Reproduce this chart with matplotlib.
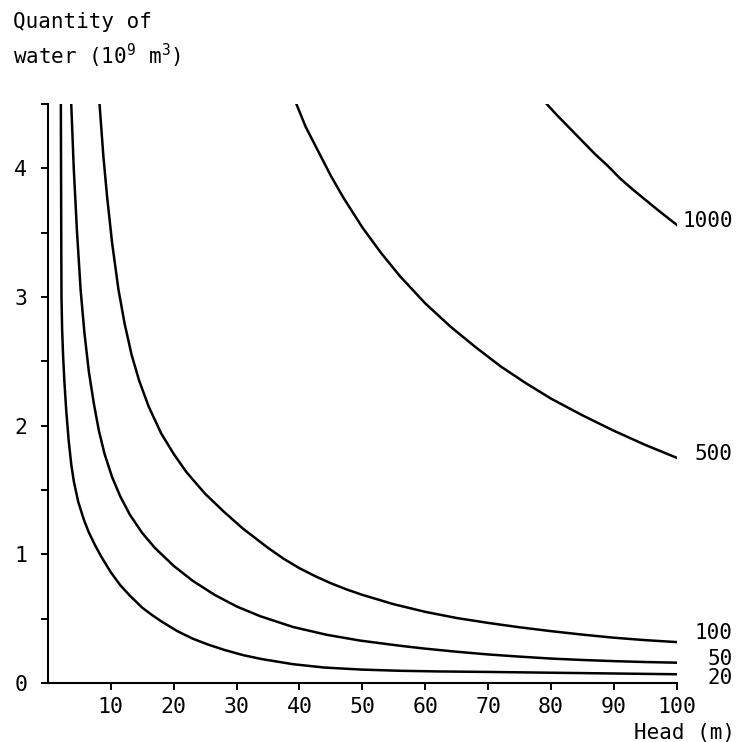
import matplotlib
matplotlib.use('Agg')
import matplotlib.pyplot as plt
import numpy as np

plt.rcParams['font.family'] = ['DejaVu Sans Mono']
plt.rcParams['mathtext.fontset'] = 'custom'
plt.rcParams['mathtext.rm'] = 'DejaVu Sans Mono'
plt.rcParams['mathtext.it'] = 'DejaVu Sans Mono'

# head (m) and quantity of water (10^9 m^3)
head_20 = [2.05, 2.08, 2.11, 2.15, 2.25, 2.4, 2.6, 2.9, 3.3, 3.7, 4.1, 4.8, 5.7, 6.5, 7.5, 8.5,
           10.0, 11.5, 13.0, 15.0, 16.5, 18.0, 20.5, 23.0, 25.5, 28.0, 31.0, 34.0, 39.0, 44.0,
           50.0, 56.0, 62.0, 70.0, 80.0, 90.0, 100.0]
water_20 = [4.50, 4.00, 3.50, 3.00, 2.75, 2.55, 2.35, 2.12, 1.88, 1.70, 1.57, 1.41, 1.27, 1.17, 1.07, 0.98,
            0.86, 0.76, 0.68, 0.585, 0.53, 0.48, 0.405, 0.345, 0.298, 0.258, 0.217, 0.186, 0.146, 0.12,
            0.104, 0.095, 0.09, 0.086, 0.08, 0.074, 0.068]

head_50 = [3.7, 4.1, 4.6, 5.2, 5.8, 6.5, 7.3, 8.1, 9.0, 10.2, 11.5, 13.0, 15.0, 17.0, 20.0, 23.0,
           26.5, 30.0, 33.7, 39.0, 44.3, 49.6, 55.9, 60.0, 65.0, 70.0, 75.0, 80.0, 85.0, 90.0, 95.0, 100.0]
water_50 = [4.50, 4.00, 3.52, 3.05, 2.72, 2.42, 2.17, 1.96, 1.78, 1.60, 1.45, 1.31, 1.165, 1.05, 0.91, 0.795,
            0.685, 0.595, 0.52, 0.435, 0.375, 0.33, 0.29, 0.267, 0.243, 0.222, 0.205, 0.19, 0.179, 0.17, 0.163, 0.158]

head_100 = [8.2, 8.8, 9.4, 10.2, 11.2, 12.2, 13.3, 14.5, 16.0, 18.0, 20.0, 22.0, 25.0, 28.0, 31.0,
            35.0, 37.5, 40.0, 42.5, 45.0, 47.5, 50.0, 55.0, 60.0, 65.0, 70.0, 75.0, 80.0, 85.0,
            90.0, 95.0, 100.0]
water_100 = [4.50, 4.10, 3.78, 3.42, 3.06, 2.79, 2.55, 2.35, 2.15, 1.94, 1.78, 1.64, 1.47, 1.33, 1.20,
             1.05, 0.965, 0.892, 0.83, 0.775, 0.727, 0.685, 0.612, 0.553, 0.505, 0.467, 0.433, 0.403, 0.376,
             0.352, 0.333, 0.318]

head_500 = [39.5, 41.0, 43.0, 45.0, 47.0, 50.0, 53.0, 56.0, 60.0, 64.0, 68.0, 72.0, 76.0, 80.0,
            85.0, 90.0, 95.0, 100.0]
water_500 = [4.50, 4.32, 4.13, 3.94, 3.77, 3.54, 3.34, 3.16, 2.95, 2.77, 2.61, 2.46, 2.33, 2.21,
             2.08, 1.96, 1.85, 1.75]

head_1000 = [79.3, 81.0, 83.0, 85.0, 87.0, 89.0, 91.0, 93.0, 95.0, 97.0, 100.0]
water_1000 = [4.50, 4.41, 4.31, 4.21, 4.11, 4.02, 3.92, 3.835, 3.755, 3.675, 3.56]

curve_labels = ['20', '50', '100', '500', '1000']
x_ticks = [10, 20, 30, 40, 50, 60, 70, 80, 90, 100]
y_ticks = [0, 1, 2, 3, 4]

curves = [(head_20, water_20), (head_50, water_50), (head_100, water_100),
          (head_500, water_500), (head_1000, water_1000)]
label_y = [0.04, 0.19, 0.385, 1.78, 3.59]

fig = plt.figure(figsize=(7.38, 7.42), dpi=100)
ax = fig.add_axes([0.065, 0.0795, 0.852, 0.7805])

for (h, q) in curves:
    ax.plot(h, q, color='black', lw=1.8, solid_joinstyle='round')

for lab, ly in zip(curve_labels, label_y):
    ax.text(108.9, ly, lab, ha='right', va='center', fontsize=15, clip_on=False)

ax.set_xlim(0, 100)
ax.set_ylim(0, 4.5)
ax.spines['top'].set_visible(False)
ax.spines['right'].set_visible(False)
ax.spines['left'].set_linewidth(1.5)
ax.spines['bottom'].set_linewidth(1.5)

ax.set_xticks(x_ticks)
ax.set_xticklabels([str(t) for t in x_ticks])
ax.set_yticks(y_ticks)
ax.set_yticklabels([str(t) for t in y_ticks])
ax.set_yticks(np.arange(0.5, 4.6, 1.0), minor=True)
ax.tick_params(axis='both', which='both', direction='out', length=5, width=1.4,
               labelsize=15.5, color='black')
ax.tick_params(axis='x', pad=5)
ax.tick_params(axis='y', pad=10)

fig.text(0.018, 0.970, 'Quantity of', fontsize=15, va='center', ha='left')
fig.text(0.018, 0.924, 'water (10$^9$ m$^3$)', fontsize=15, va='center', ha='left')
fig.text(0.996, 0.012, 'Head (m)', fontsize=15, va='center', ha='right')

fig.savefig('out.png', dpi=100)
